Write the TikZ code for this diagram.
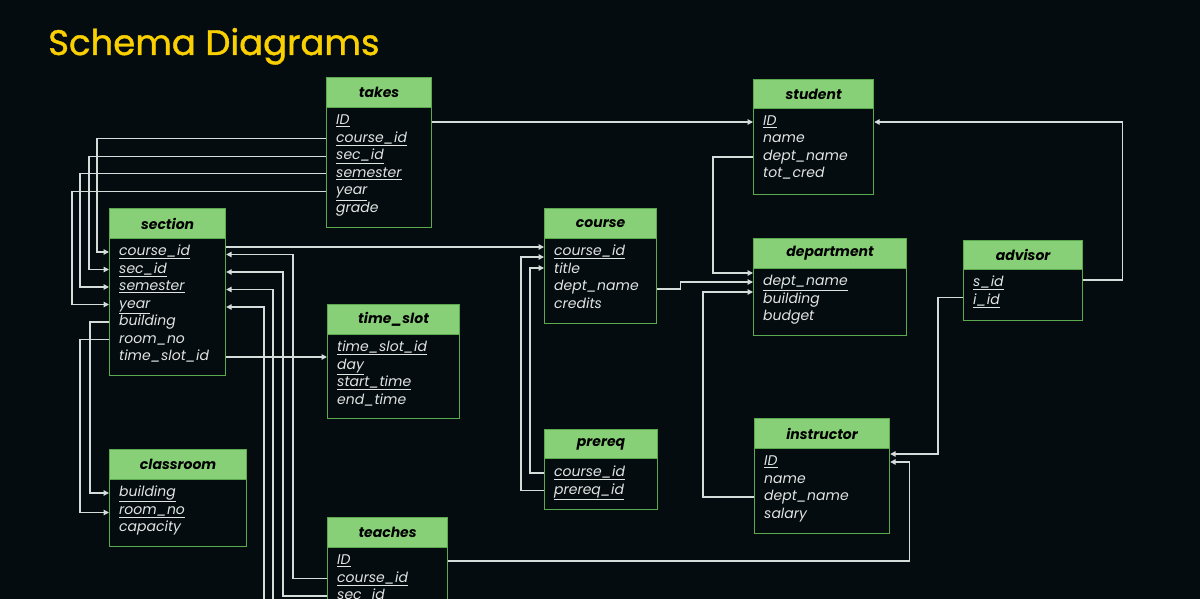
\documentclass[tikz,border=0pt]{standalone}
\usepackage{fontspec}
\setmainfont{Poppins}
\newfontfamily\titlefont[FakeBold=1.2]{Poppins}
\usetikzlibrary{arrows.meta,calc}

\definecolor{bgdark}{RGB}{4,12,16}
\definecolor{hdrgreen}{RGB}{136,208,120}
\definecolor{boxgreen}{RGB}{92,170,78}
\definecolor{linkgray}{RGB}{214,220,218}
\definecolor{fieldtxt}{RGB}{226,228,226}
\definecolor{titleyel}{RGB}{250,208,0}

\tikzset{
  tblhead/.style={draw=boxgreen, fill=hdrgreen, line width=1.2pt, anchor=north west, minimum height=30pt, inner sep=0pt, text=black, font=\bfseries\itshape\fontsize{14}{14}\selectfont},
  tblbody/.style={draw=boxgreen, line width=1.2pt, anchor=north west, inner sep=0pt},
  field/.style={anchor=west, inner sep=0pt, text height=10pt, text depth=3pt, text=fieldtxt, font=\itshape\fontsize{14}{14}\selectfont},
  fk/.style={draw=linkgray, line width=1.2pt, -{Triangle[length=5.5pt,width=5.5pt]}},
}

\begin{document}
\begin{tikzpicture}[x=1pt,y=1pt,yscale=-1,xscale=1]
\useasboundingbox (0,0) rectangle (1200,599);
\fill[bgdark] (0,0) rectangle (1200,599);
\clip (0,0) rectangle (1200,599);

% Title
\node[anchor=base west, inner sep=0pt, text=titleyel, font=\titlefont\fontsize{35.5}{36}\selectfont] (title) at (48,55) {Schema Diagrams};

%Table takes
\node[tblhead, minimum width=105pt] (takes-h) at (326,77) {takes};
\node[tblbody, minimum width=105pt, minimum height=120pt] (takes) at (326,107) {};
\foreach \f [count=\i] in {\underline{ID},\underline{course\_id},\underline{sec\_id},\underline{semester},\underline{year},grade}
  \node[field] (takes-\i) at (336,{121+17.6*(\i-1)}) {\f};

%Table section
\node[tblhead, minimum width=116pt] (section-h) at (109,208) {section};
\node[tblbody, minimum width=116pt, minimum height=137pt] (section) at (109,238) {};
\foreach \f [count=\i] in {\underline{course\_id},\underline{sec\_id},\underline{semester},\underline{year},building,room\_no,time\_slot\_id}
  \node[field] (section-\i) at (119,{252+17.5*(\i-1)}) {\f};

%Table time_slot
\node[tblhead, minimum width=132pt] (time_slot-h) at (327,304) {time\_slot};
\node[tblbody, minimum width=132pt, minimum height=84pt] (time_slot) at (327,334) {};
\foreach \f [count=\i] in {\underline{time\_slot\_id},\underline{day},\underline{start\_time},end\_time}
  \node[field] (time_slot-\i) at (337,{348+17.5*(\i-1)}) {\f};

%Table classroom
\node[tblhead, minimum width=137pt] (classroom-h) at (109,449) {classroom};
\node[tblbody, minimum width=137pt, minimum height=67pt] (classroom) at (109,479) {};
\foreach \f [count=\i] in {\underline{building},\underline{room\_no},capacity}
  \node[field] (classroom-\i) at (119,{493+17.5*(\i-1)}) {\f};

%Table teaches (runs off the bottom)
\node[tblhead, minimum width=120pt] (teaches-h) at (327,517) {teaches};
\node[tblbody, minimum width=120pt, minimum height=130pt] (teaches) at (327,547) {};
\foreach \f [count=\i] in {\underline{ID},\underline{course\_id},\underline{sec\_id}}
  \node[field] (teaches-\i) at (337,{561+17.5*(\i-1)}) {\f};
\coordinate (teaches-4) at (337,614);
\coordinate (teaches-5) at (337,631.5);

%Table course
\node[tblhead, minimum width=112pt] (course-h) at (544,208) {course};
\node[tblbody, minimum width=112pt, minimum height=85pt] (course) at (544,238) {};
\foreach \f [count=\i] in {\underline{course\_id},title,dept\_name,credits}
  \node[field] (course-\i) at (554,{252+17.5*(\i-1)}) {\f};

%Table prereq
\node[tblhead, minimum width=113pt, minimum height=29pt] (prereq-h) at (544,429) {prereq};
\node[tblbody, minimum width=113pt, minimum height=51pt] (prereq) at (544,458) {};
\foreach \f [count=\i] in {\underline{course\_id},\underline{prereq\_id}}
  \node[field] (prereq-\i) at (554,{473+17.5*(\i-1)}) {\f};

%Table student
\node[tblhead, minimum width=120pt, minimum height=29pt] (student-h) at (753,79) {student};
\node[tblbody, minimum width=120pt, minimum height=86pt] (student) at (753,108) {};
\foreach \f [count=\i] in {\underline{ID},name,dept\_name,tot\_cred}
  \node[field] (student-\i) at (763,{122+17.5*(\i-1)}) {\f};

%Table department
\node[tblhead, minimum width=153pt] (department-h) at (753,238) {department};
\node[tblbody, minimum width=153pt, minimum height=67pt] (department) at (753,268) {};
\foreach \f [count=\i] in {\underline{dept\_name},building,budget}
  \node[field] (department-\i) at (763,{282+17.5*(\i-1)}) {\f};

%Table advisor
\node[tblhead, minimum width=119pt, minimum height=29pt] (advisor-h) at (963,240) {advisor};
\node[tblbody, minimum width=119pt, minimum height=51pt] (advisor) at (963,269) {};
\foreach \f [count=\i] in {\underline{s\_id},\underline{i\_id}}
  \node[field] (advisor-\i) at (973,{283+17.5*(\i-1)}) {\f};

%Table instructor
\node[tblhead, minimum width=135pt] (instructor-h) at (754,418) {instructor};
\node[tblbody, minimum width=135pt, minimum height=85pt] (instructor) at (754,448) {};
\foreach \f [count=\i] in {\underline{ID},name,dept\_name,salary}
  \node[field] (instructor-\i) at (764,{462+17.5*(\i-1)}) {\f};

%Connectors takes
\draw[fk] (takes.east |- student-1) -- (student.west |- student-1);
\foreach \i/\j/\d in {2/1/229,3/2/237,4/3/246,5/4/254}
  \draw[fk] (takes.west |- takes-\i) -- ++(-\d,0) |- (section.west |- section-\j);

%Connectors section
\draw[fk] ($(section.east |- section-1)+(0,-5)$) -- ($(course.west |- course-1)+(0,-5)$);
\draw[fk] (section.east |- section-7) -- (time_slot.west |- section-7);
\draw[fk] (section.west |- section-5) -- ++(-19,0) |- (classroom.west |- classroom-1);
\draw[fk] (section.west |- section-6) -- ++(-29,0) |- ($(classroom.west |- classroom-2)+(0,2)$);

%Connectors teaches
\foreach \i/\j/\d in {2/1/34,3/2/44,4/3/54,5/4/63}
  \draw[fk] (teaches.west |- teaches-\i) -- ++(-\d,0) |- ($(section.east |- section-\j)+(0,2.5)$);
\draw[fk] (teaches.east |- teaches-1) -- ++(461,0) |- (instructor.east |- instructor-1);

%Connectors prereq
\draw[fk] (prereq.west |- prereq-2) -- ++(-23,0) |- ($(course.west |- course-1)+(0,5)$);
\draw[fk] (prereq.west |- prereq-1) -- ++(-14,0) |- ($(course.west |- course-1)+(0,16)$);

%Connectors department
\draw[fk] (student.west |- student-3) -- ++(-40,0) |- ($(department.west |- department-1)+(0,-9)$);
\draw[fk] ($(course.east |- course-3)+(0,2)$) -- ++(23,0) |- (department.west |- department-1);
\draw[fk] (instructor.west |- instructor-3) -- ++(-51,0) |- ($(department.west |- department-1)+(0,10)$);

%Connectors advisor
\draw[fk] ($(advisor.east |- advisor-1)+(0,-3)$) -- ++(39,0) |- (student.east |- student-1);
\draw[fk] ($(advisor.west |- advisor-2)+(0,-3)$) -- ++(-25,0) |- ($(instructor.east |- instructor-1)+(0,-8)$);

\end{tikzpicture}
\end{document}
